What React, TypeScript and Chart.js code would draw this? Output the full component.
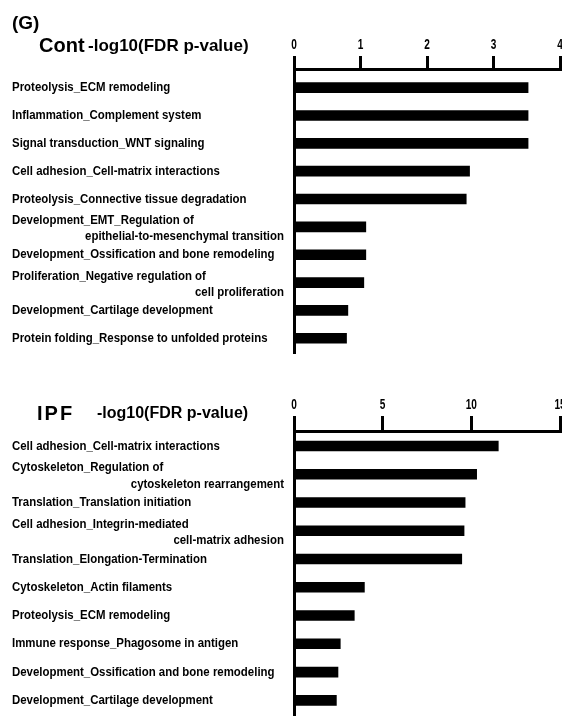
import React, { useEffect, useRef } from "react";
import { Chart, registerables } from "chart.js";

Chart.register(...registerables);

const panelLetter = "(G)";
const axisTitle = "-log10(FDR p-value)";

const contTitle = "Cont";
const contLabels: string[][] = [
  ["Proteolysis_ECM remodeling"],
  ["Inflammation_Complement system"],
  ["Signal transduction_WNT signaling"],
  ["Cell adhesion_Cell-matrix interactions"],
  ["Proteolysis_Connective tissue degradation"],
  ["Development_EMT_Regulation of", "epithelial-to-mesenchymal transition"],
  ["Development_Ossification and bone remodeling"],
  ["Proliferation_Negative regulation of", "cell proliferation"],
  ["Development_Cartilage development"],
  ["Protein folding_Response to unfolded proteins"],
];
const contValues = [3.52, 3.52, 3.52, 2.64, 2.59, 1.08, 1.08, 1.05, 0.81, 0.79];
const contAxisMax = 4;
const contAxisStep = 1;

const ipfTitle = "IPF";
const ipfLabels: string[][] = [
  ["Cell adhesion_Cell-matrix interactions"],
  ["Cytoskeleton_Regulation of", "cytoskeleton rearrangement"],
  ["Translation_Translation initiation"],
  ["Cell adhesion_Integrin-mediated", "cell-matrix adhesion"],
  ["Translation_Elongation-Termination"],
  ["Cytoskeleton_Actin filaments"],
  ["Proteolysis_ECM remodeling"],
  ["Immune response_Phagosome in antigen"],
  ["Development_Ossification and bone remodeling"],
  ["Development_Cartilage development"],
];
const ipfValues = [11.52, 10.3, 9.65, 9.59, 9.46, 3.97, 3.4, 2.61, 2.48, 2.39];
const ipfAxisMax = 15;
const ipfAxisStep = 5;

const SANS = '"Liberation Sans", Arial, sans-serif';

type TitleItem = { text: string; x: number; y: number; font: string; ls: string };

type PanelProps = {
  height: number;
  labels: string[][];
  values: number[];
  max: number;
  step: number;
  titles: TitleItem[];
  axisTop: number;
  axisBottom: number;
  yMin: number;
  yMax: number;
  tickLength: number;
  tickLabelGap: number;
};

function narrowText(ctx: CanvasRenderingContext2D, text: string, x: number, y: number, k: number, align: CanvasTextAlign) {
  ctx.save();
  ctx.translate(x, y);
  ctx.scale(k, 1);
  ctx.textAlign = align;
  ctx.fillText(text, 0, 0);
  ctx.restore();
}

function Panel(props: PanelProps) {
  const ref = useRef<HTMLCanvasElement>(null);
  useEffect(() => {
    const { height, labels, values, max, step, titles, axisTop, axisBottom, yMin, yMax, tickLength, tickLabelGap } = props;
    const textPlugin = {
      id: "panelText",
      afterDraw(chart: any) {
        const ctx = chart.ctx as CanvasRenderingContext2D;
        const ys = chart.scales.y;
        const xs = chart.scales.x;
        ctx.save();
        ctx.fillStyle = "#000";
        ctx.textBaseline = "middle";
        // category labels
        ctx.font = `bold 13px ${SANS}`;
        labels.forEach((lines, i) => {
          const py = ys.getPixelForValue(i);
          if (lines.length === 1) {
            narrowText(ctx, lines[0], 12, py, 0.88, "left");
          } else {
            narrowText(ctx, lines[0], 12, py - 6.5, 0.88, "left");
            narrowText(ctx, lines[1], 284, py + 10, 0.88, "right");
          }
        });
        // x tick labels
        ctx.font = `bold 14px ${SANS}`;
        xs.ticks.forEach((t: any) => {
          const px = xs.getPixelForValue(t.value);
          narrowText(ctx, String(t.value), px, xs.bottom - tickLength - tickLabelGap, 0.72, "center");
        });
        // titles
        titles.forEach((t) => {
          ctx.font = t.font;
          (ctx as any).letterSpacing = t.ls;
          ctx.textAlign = "left";
          ctx.fillText(t.text, t.x, t.y);
        });
        ctx.restore();
      },
    };
    const chart = new Chart(ref.current as HTMLCanvasElement, {
      type: "bar",
      data: {
        datasets: [
          {
            data: values.map((v, i) => ({ x: v, y: i })),
            backgroundColor: "#000",
            borderWidth: 0,
            barThickness: 10,
          },
        ],
      },
      options: {
        indexAxis: "y",
        animation: false,
        responsive: false,
        layout: { padding: { left: 0, right: 2, top: 0, bottom: height - axisBottom } },
        plugins: { legend: { display: false }, tooltip: { enabled: false } },
        scales: {
          x: {
            type: "linear",
            position: "top",
            min: 0,
            max,
            offset: false,
            ticks: { stepSize: step, display: false },
            grid: { drawOnChartArea: false, drawTicks: true, tickLength, lineWidth: 3, color: "#000", offset: false },
            border: { display: true, width: 3, color: "#000" },
            afterFit: (s: any) => {
              s.height = axisTop;
              s.paddingLeft = 0;
              s.paddingRight = 0;
            },
          },
          y: {
            type: "linear",
            reverse: true,
            min: yMin,
            max: yMax,
            offset: false,
            ticks: { display: false },
            grid: { display: false, offset: false },
            border: { display: true, width: 3, color: "#000" },
            afterFit: (s: any) => {
              s.width = 294;
            },
          },
        },
      } as any,
      plugins: [textPlugin],
    });
    return () => chart.destroy();
  }, []);
  return <canvas ref={ref} width={562} height={props.height} style={{ display: "block" }} />;
}

export default function App() {
  return (
    <div style={{ position: "absolute", left: 0, top: 0, width: 562, height: 718, background: "#fff", overflow: "hidden" }}>
      <Panel
        height={360}
        labels={contLabels}
        values={contValues}
        max={contAxisMax}
        step={contAxisStep}
        axisTop={69}
        axisBottom={353}
        yMin={-0.67}
        yMax={9.53}
        tickLength={13}
        tickLabelGap={11}
        titles={[
          { text: panelLetter, x: 12, y: 24, font: `bold 19px ${SANS}`, ls: "0px" },
          { text: contTitle, x: 39, y: 46, font: `bold 20px ${SANS}`, ls: "0px" },
          { text: axisTitle, x: 88, y: 46, font: `bold 17px ${SANS}`, ls: "0px" },
        ]}
      />
      <Panel
        height={358}
        labels={ipfLabels}
        values={ipfValues}
        max={ipfAxisMax}
        step={ipfAxisStep}
        axisTop={71}
        axisBottom={355}
        yMin={-0.53}
        yMax={9.52}
        tickLength={15}
        tickLabelGap={11}
        titles={[
          { text: ipfTitle, x: 37, y: 54, font: `bold 20px ${SANS}`, ls: "2px" },
          { text: axisTitle, x: 97, y: 54, font: `bold 16px ${SANS}`, ls: "0px" },
        ]}
      />
    </div>
  );
}
